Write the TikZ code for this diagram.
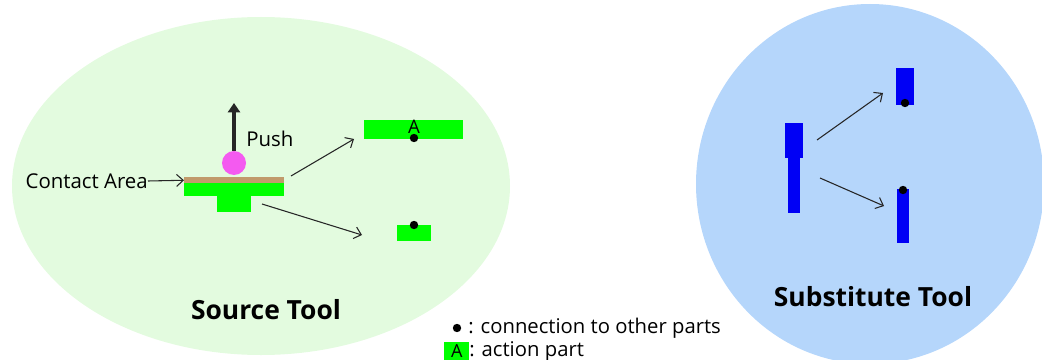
\documentclass[tikz,border=0pt]{standalone}
\usepackage{fontspec}
\setmainfont{Open Sans}
\usetikzlibrary{arrows.meta,positioning}

\definecolor{srcbg}{HTML}{E3FBDF}
\definecolor{subbg}{HTML}{B5D6FB}
\definecolor{partgreen}{HTML}{00FF00}
\definecolor{contactbrown}{HTML}{C19A6B}
\definecolor{ballpink}{HTML}{F45AF0}
\definecolor{partblue}{HTML}{0000F5}

\begin{document}
\begin{tikzpicture}[x=0.75pt,y=-0.75pt]
    % Define styles
    \tikzstyle{gpart} = [rectangle, inner sep=0pt, anchor=north west, fill=partgreen]
    \tikzstyle{bpart} = [rectangle, inner sep=0pt, anchor=north west, fill=partblue]
    \tikzstyle{joint} = [circle, inner sep=0pt, minimum size=6.3pt, fill=black]
    \tikzstyle{label} = [inner sep=0pt, font=\fontsize{15.3}{18}\selectfont]
    \tikzstyle{title} = [inner sep=0pt, font=\fontsize{19.8}{24}\selectfont\bfseries]
    \tikzstyle{legend} = [inner sep=0pt, anchor=west, font=\fontsize{15.2}{18}\selectfont]
    \tikzstyle{arrow} = [line width=0.8pt, draw=black!85, -{Straight Barb[length=5pt,width=9pt]}]
    \tikzstyle{push} = [line width=3.3pt, draw=black!85, -{Triangle[length=7pt,width=9pt]}]

    \useasboundingbox (0,0) rectangle (1042,360);

    % Regions
    \fill[srcbg] (261,186) ellipse [x radius=249, y radius=169];
    \fill[subbg] (870,184) ellipse [x radius=174, y radius=180];

    % Source tool
    \node (contact) [gpart, fill=contactbrown, minimum width=75pt, minimum height=4.5pt] at (184,177) {};
    \node (srcbar) [gpart, minimum width=75pt, minimum height=9.75pt] at (184,183) {};
    \node (srcstem) [gpart, minimum width=25.5pt, minimum height=12pt] at (217,196) {};
    \node (ball) [circle, inner sep=0pt, minimum size=18pt, fill=ballpink] at (234,163) {};
    \coordinate (pushtip) at (234,103);
    \node (pushlbl) [label, anchor=west] at (246,139) {Push};
    \node (contactlbl) [label, anchor=east] at (148,181) {Contact Area};

    \node (actbar) [gpart, minimum width=74.25pt, minimum height=14.25pt] at (364,120) {};
    \node (actlbl) [label, font=\fontsize{14}{16}\selectfont] at (414,127) {A};
    \node (actdot) [joint] at (414,138) {};
    \node (handle) [gpart, minimum width=25.5pt, minimum height=12pt] at (397,225) {};
    \node (handledot) [joint] at (414,225) {};

    \node (srctitle) [title] at (266,310) {Source Tool};

    % Substitute tool
    \node (subtop) [bpart, minimum width=13.5pt, minimum height=26.25pt] at (785,123) {};
    \node (sublow) [bpart, minimum width=9pt, minimum height=41.25pt] at (788,158) {};
    \node (subact) [bpart, minimum width=13.5pt, minimum height=27.75pt] at (896,68) {};
    \node (subactdot) [joint] at (905,103) {};
    \node (subhandle) [bpart, minimum width=9pt, minimum height=40.5pt] at (897,189) {};
    \node (subhandledot) [joint] at (903,190) {};

    \node (subtitle) [title] at (873,297) {Substitute Tool};

    % Legend
    \node (legdot) [joint] at (457,328) {};
    \node (legdottxt) [legend] at (468,328) {: connection to other parts};
    \node (legbox) [gpart, minimum width=18.75pt, minimum height=13.5pt] at (444,342) {};
    \node (legboxA) [legend, anchor=center, font=\fontsize{13.5}{16}\selectfont] at (legbox) {A};
    \node (legboxtxt) [legend] at (469,351) {: action part};

    % Arrows
    \coordinate (a1s) at (291,176);
    \coordinate (a1e) at (354,139);
    \coordinate (a2s) at (262,204);
    \coordinate (a2e) at (362,235);
    \coordinate (b1s) at (817,140);
    \coordinate (b1e) at (883,93);
    \coordinate (b2s) at (820,178);
    \coordinate (b2e) at (884,206);
    \draw [push] (ball.north) -- (pushtip);
    \draw [arrow] (contactlbl.east) -- (contact.west);
    \draw [arrow] (a1s) -- (a1e);
    \draw [arrow] (a2s) -- (a2e);
    \draw [arrow] (b1s) -- (b1e);
    \draw [arrow] (b2s) -- (b2e);
\end{tikzpicture}
\end{document}
